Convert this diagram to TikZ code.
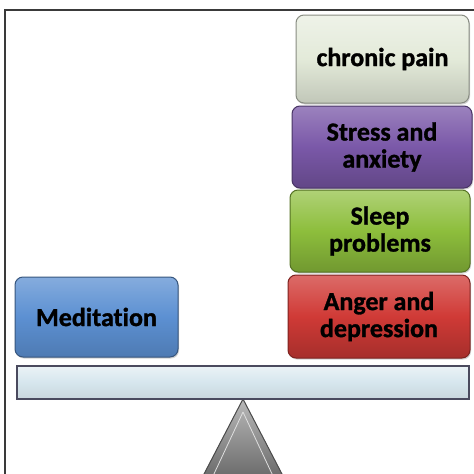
\documentclass[tikz,border=0pt]{standalone}
\usepackage{fontspec}
\setmainfont{Carlito}[Ligatures=NoCommon, BoldFeatures={FakeBold=1.2}]
\usetikzlibrary{shadows}
\definecolor{paleC}{HTML}{E3EAD9}
\definecolor{purpC}{HTML}{7A58A8}
\definecolor{grnC}{HTML}{8DBE3C}
\definecolor{redC}{HTML}{D03A36}
\definecolor{bluC}{HTML}{5C90D2}
\definecolor{beamC}{HTML}{D6E6EE}
\definecolor{frameC}{HTML}{3A3A3A}
\definecolor{beamEdge}{HTML}{4A4A5E}
\tikzset{
  x=1pt, y=-1pt,
  glossy/.style={rounded corners=8pt, line width=1pt, align=center, inner sep=0pt,
    font=\bfseries\fontsize{26}{27}\selectfont, text=black,
    drop shadow={shadow xshift=1pt, shadow yshift=-1.5pt, opacity=0.35}},
  boxpale/.style={glossy, draw=paleC!60!black, top color=paleC!60!white, bottom color=paleC!85!black, middle color=paleC},
  boxpurp/.style={glossy, draw=purpC!60!black, top color=purpC!75!white, bottom color=purpC!80!black, middle color=purpC},
  boxgrn/.style={glossy, draw=grnC!60!black, top color=grnC!70!white, bottom color=grnC!80!black, middle color=grnC},
  boxred/.style={glossy, draw=redC!60!black, top color=redC!75!white, bottom color=redC!80!black, middle color=redC},
  boxblu/.style={glossy, draw=bluC!60!black, top color=bluC!75!white, bottom color=bluC!85!black, middle color=bluC},
  beamstyle/.style={draw=beamEdge, line width=1.3pt, top color=beamC!50!white, bottom color=beamC!85!gray, middle color=beamC, inner sep=0pt},
}
\begin{document}
\begin{tikzpicture}
\useasboundingbox (0,0) rectangle (474,474);
\fill[white] (0,0) rectangle (474,474);
% frame
\draw[frameC, line width=1.3pt] (5,474) -- (5,10) -- (474,10);
% support triangle
\coordinate (apex) at (243,399);
\coordinate (bl) at (203,476);
\coordinate (br) at (283,476);
\filldraw[draw=black!70, line width=1pt, top color=gray!55, bottom color=gray!85!black] (apex) -- (br) -- (bl) -- cycle;
\draw[white!75!gray, line width=0.8pt] (243,412) -- (273,476) (243,412) -- (213,476);
% beam
\node[beamstyle, minimum width=452pt, minimum height=33pt] (beam) at (243,382.5) {};
% boxes
\node[boxpale, minimum width=173pt, minimum height=88pt] (chronic) at (382.5,59) {chronic pain};
\node[boxpurp, minimum width=180pt, minimum height=82pt] (stress) at (382,147) {Stress and\\anxiety};
\node[boxgrn, minimum width=180pt, minimum height=82pt] (sleep) at (380,231) {Sleep\\problems};
\node[boxred, minimum width=182pt, minimum height=83pt] (anger) at (379,316.5) {Anger and\\depression};
\node[boxblu, minimum width=163pt, minimum height=80pt] (medit) at (96.5,317) {Meditation};
\end{tikzpicture}
\end{document}
